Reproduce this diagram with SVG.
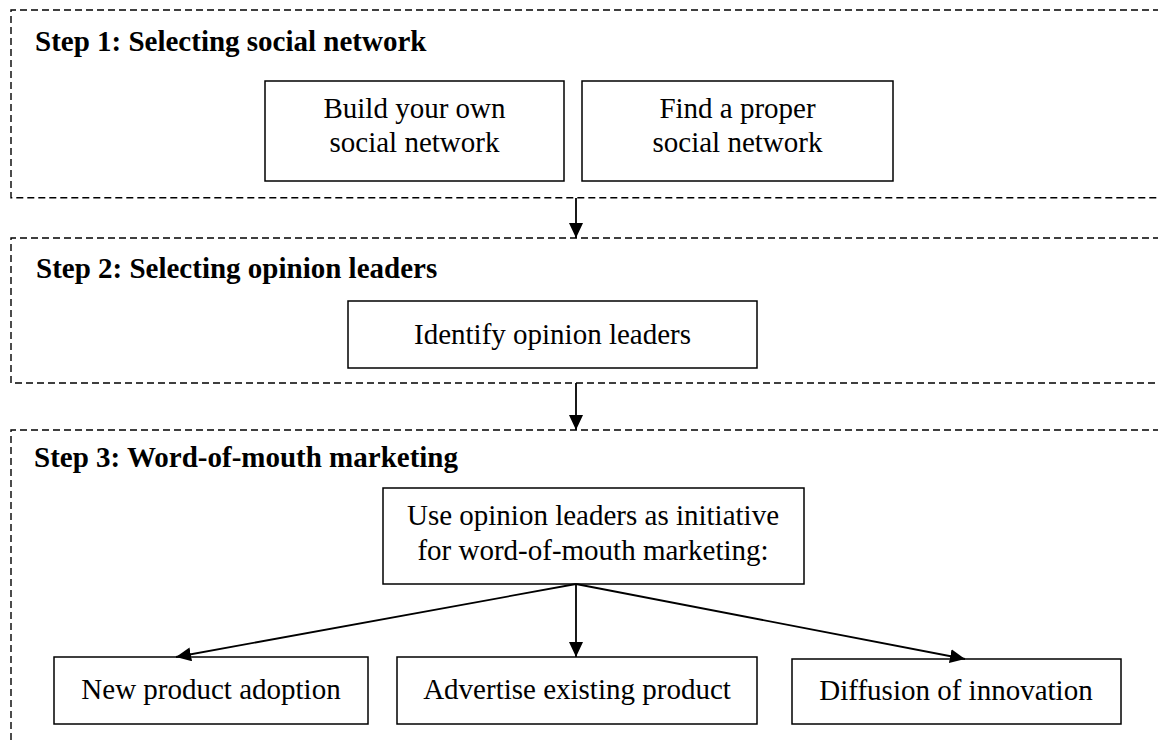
<svg xmlns="http://www.w3.org/2000/svg" width="1158" height="740" viewBox="0 0 1158 740">
  <defs>
    <style>
      .stage { fill: none; stroke: #000; stroke-width: 1.4; stroke-dasharray: 7 4; }
      .box { fill: #fff; stroke: #000; stroke-width: 1.5; }
      .head { font-family: "Liberation Serif", "Times New Roman", serif; font-weight: bold; font-size: 29px; fill: #000; }
      .label { font-family: "Liberation Serif", "Times New Roman", serif; font-size: 29px; fill: #000; text-anchor: middle; }
      .conn { fill: none; stroke: #000; stroke-width: 1.8; }
    </style>
    <marker id="arrow" markerUnits="userSpaceOnUse" markerWidth="16" markerHeight="14" refX="15" refY="7" orient="auto">
      <path d="M0,0 L15,7 L0,14 z" fill="#000"/>
    </marker>
  </defs>
  <rect width="1158" height="740" fill="#fff"/>

  <!-- Step 1 stage -->
  <g id="stage1">
    <path class="stage" d="M1160,10 H11 V197.7 H1160"/>
    <text class="head" x="35" y="51">Step 1: Selecting social network</text>
  </g>
  <g id="build-network">
    <rect class="box" x="265" y="81" width="299" height="100"/>
    <text class="label" x="414.5" y="118">Build your own</text>
    <text class="label" x="414.5" y="152">social network</text>
  </g>
  <g id="find-network">
    <rect class="box" x="582" y="81" width="311" height="100"/>
    <text class="label" x="737.5" y="118">Find a proper</text>
    <text class="label" x="737.5" y="152">social network</text>
  </g>

  <!-- Step 2 stage -->
  <g id="stage2">
    <path class="stage" d="M1160,238 H11 V383 H1160"/>
    <text class="head" x="36" y="278">Step 2: Selecting opinion leaders</text>
  </g>
  <g id="identify-leaders">
    <rect class="box" x="348" y="301" width="409" height="67"/>
    <text class="label" x="552.5" y="344">Identify opinion leaders</text>
  </g>

  <!-- Step 3 stage -->
  <g id="stage3">
    <path class="stage" d="M1160,430 H11 V745"/>
    <text class="head" x="34" y="467">Step 3: Word-of-mouth marketing</text>
  </g>
  <g id="use-leaders">
    <rect class="box" x="383" y="488" width="421" height="96"/>
    <text class="label" x="593" y="525">Use opinion leaders as initiative</text>
    <text class="label" x="593" y="560">for word-of-mouth marketing:</text>
  </g>
  <g id="new-product">
    <rect class="box" x="54" y="657" width="314" height="67"/>
    <text class="label" x="211" y="699">New product adoption</text>
  </g>
  <g id="advertise-product">
    <rect class="box" x="397" y="657" width="360" height="67"/>
    <text class="label" x="577" y="699">Advertise existing product</text>
  </g>
  <g id="diffusion">
    <rect class="box" x="792" y="659" width="329" height="65"/>
    <text class="label" x="956" y="700">Diffusion of innovation</text>
  </g>

  <!-- Connectors -->
  <g id="connectors">
    <line class="conn" x1="576" y1="198" x2="576" y2="238" marker-end="url(#arrow)"/>
    <line class="conn" x1="576" y1="383" x2="576" y2="430" marker-end="url(#arrow)"/>
    <line class="conn" x1="576" y1="584" x2="176" y2="657" marker-end="url(#arrow)"/>
    <line class="conn" x1="576" y1="584" x2="576" y2="657" marker-end="url(#arrow)"/>
    <line class="conn" x1="576" y1="584" x2="965" y2="659" marker-end="url(#arrow)"/>
  </g>
</svg>
